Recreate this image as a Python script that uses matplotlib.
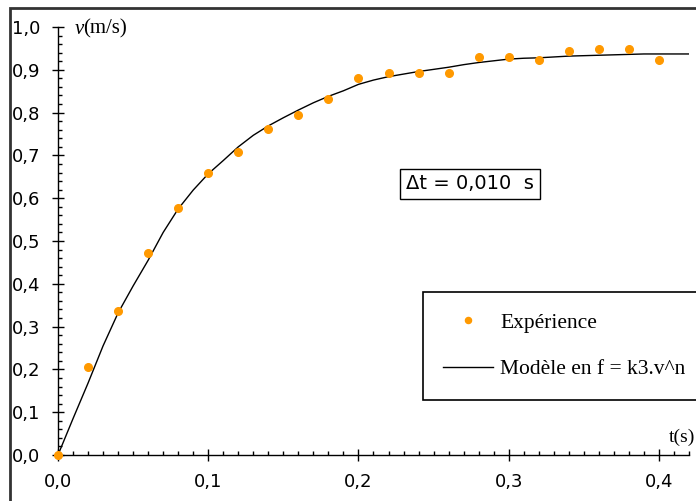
import matplotlib.pyplot as plt
from matplotlib.patches import Rectangle
from matplotlib.ticker import MultipleLocator, FuncFormatter

# experimental points
t_exp = [0.00, 0.02, 0.04, 0.06, 0.08, 0.10, 0.12, 0.14, 0.16, 0.18, 0.20,
         0.22, 0.24, 0.26, 0.28, 0.30, 0.32, 0.34, 0.36, 0.38, 0.40]
v_exp = [0.000, 0.206, 0.336, 0.472, 0.577, 0.659, 0.708, 0.761, 0.794, 0.831, 0.881,
         0.892, 0.892, 0.892, 0.930, 0.930, 0.923, 0.944, 0.948, 0.948, 0.923]

# model curve
t_mod = [0.00, 0.01, 0.02, 0.03, 0.04, 0.05, 0.06, 0.07, 0.08, 0.09, 0.10,
         0.11, 0.12, 0.13, 0.14, 0.15, 0.16, 0.17, 0.18, 0.19, 0.20, 0.21,
         0.22, 0.23, 0.24, 0.25, 0.26, 0.27, 0.28, 0.29, 0.30, 0.31, 0.32,
         0.33, 0.34, 0.35, 0.36, 0.37, 0.38, 0.39, 0.40, 0.41, 0.42]
v_mod = [0.000, 0.085, 0.168, 0.255, 0.332, 0.395, 0.455, 0.520, 0.575, 0.619, 0.657,
         0.688, 0.720, 0.747, 0.769, 0.788, 0.806, 0.823, 0.838, 0.851, 0.866, 0.876,
         0.884, 0.890, 0.896, 0.901, 0.906, 0.912, 0.917, 0.921, 0.925, 0.927, 0.928,
         0.930, 0.932, 0.933, 0.934, 0.935, 0.936, 0.937, 0.937, 0.937, 0.937]

W, H = 696, 501
fig = plt.figure(figsize=(W / 100, H / 100), dpi=100)
ax = fig.add_axes([58 / W, 1 - 455 / H, (689 - 58) / W, 428 / H])

ax.plot(t_mod, v_mod, color='black', lw=1.0, label='Modèle en f = k3.v^n')
ax.plot(t_exp, v_exp, 'o', color='#ff9900', ms=5.5, clip_on=False, zorder=3,
        label='Expérience')

ax.set_xlim(0, 0.42)
ax.set_ylim(0, 1.0)
for s in ['top', 'right']:
    ax.spines[s].set_visible(False)
for s in ['left', 'bottom']:
    ax.spines[s].set_linewidth(1.0)

comma = FuncFormatter(lambda x, pos: f'{x:.1f}'.replace('.', ','))
ax.xaxis.set_major_locator(MultipleLocator(0.1))
ax.xaxis.set_minor_locator(MultipleLocator(0.01))
ax.yaxis.set_major_locator(MultipleLocator(0.1))
ax.yaxis.set_minor_locator(MultipleLocator(0.02))
ax.xaxis.set_major_formatter(comma)
ax.yaxis.set_major_formatter(comma)
ax.tick_params(which='major', direction='inout', length=8, width=1,
               labelsize=13)
ax.tick_params(which='minor', direction='in', length=3, width=1)
ax.tick_params(axis='x', which='major', pad=9)
ax.tick_params(axis='y', which='major', pad=9)

# axis titles
fig.text(75 / W, 1 - 29 / H, 'v', family='Liberation Serif', style='italic',
         fontsize=15, va='center')
fig.text(83 / W, 1 - 29 / H, '(m/s)', family='Liberation Serif',
         fontsize=15, va='center')
fig.text(669 / W, 1 - 437 / H, 't(s)', family='Liberation Serif',
         fontsize=14, va='center')

# time step box
fig.text(470 / W, 1 - 184 / H, 'Δt = 0,010  s', fontsize=14,
         ha='center', va='center',
         bbox=dict(boxstyle='square,pad=0.3', fc='white', ec='black', lw=1))

leg = ax.legend(handles=ax.get_lines()[::-1], loc='upper left',
                bbox_to_anchor=(423 / W, 1 - 292 / H),
                bbox_transform=fig.transFigure, borderaxespad=0,
                prop={'family': 'Liberation Serif', 'size': 15.5},
                handlelength=2.3, handletextpad=0.33, borderpad=0.95,
                labelspacing=1.25, numpoints=1, fancybox=False,
                edgecolor='black', framealpha=1, markerscale=0.8)
leg.get_frame().set_linewidth(1.2)

# outer frame of the chart area
fig.patches.append(Rectangle((10 / W, -0.1), 1.2, 1 - 8 / H + 0.1,
                             transform=fig.transFigure, fill=False,
                             ec='#333333', lw=2))

fig.savefig('out.png', dpi=100)
